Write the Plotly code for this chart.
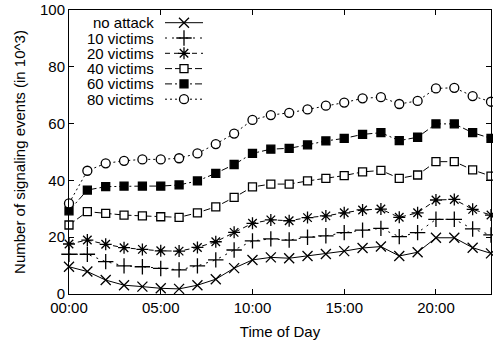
import plotly.graph_objects as go

# ---------------- data ----------------
hours = list(range(24))
x_tick_vals = [0, 5, 10, 15, 20]
x_tick_text = ["00:00", "05:00", "10:00", "15:00", "20:00"]
y_tick_vals = [0, 20, 40, 60, 80, 100]

series_names = ["no attack", "10 victims", "20 victims", "40 victims", "60 victims", "80 victims"]
no_attack = [9.6, 7.9, 4.9, 3.1, 2.6, 2.0, 1.8, 3.1, 5.2, 9.1, 12.0, 12.9,
             12.6, 13.4, 14.1, 15.1, 16.2, 16.7, 13.4, 14.7, 19.8, 19.8, 16.3, 14.3]
victims_10 = [14.0, 14.0, 11.4, 9.9, 9.6, 9.0, 8.5, 9.9, 12.0, 15.5, 18.7, 19.4,
              19.0, 20.0, 20.5, 21.6, 22.5, 23.1, 20.2, 21.6, 26.3, 26.3, 22.9, 20.8]
victims_20 = [17.6, 19.0, 17.5, 16.3, 15.7, 15.2, 15.1, 16.4, 18.4, 21.7, 24.9, 26.1,
              25.8, 26.9, 27.5, 28.6, 29.6, 29.9, 27.0, 28.6, 33.1, 33.3, 29.8, 27.8]
victims_40 = [24.3, 29.0, 28.4, 27.8, 27.5, 27.2, 27.0, 28.6, 30.7, 34.0, 37.7, 38.7,
              38.7, 39.8, 40.7, 41.7, 43.0, 43.5, 40.7, 41.9, 46.6, 46.6, 43.7, 41.5]
victims_60 = [29.3, 36.6, 37.8, 38.0, 38.0, 38.0, 38.4, 39.8, 42.5, 45.6, 49.5, 51.0,
              51.3, 52.5, 53.9, 54.8, 56.2, 56.8, 54.0, 55.2, 59.9, 59.9, 56.8, 54.8]
victims_80 = [31.9, 43.4, 46.0, 46.9, 47.4, 47.4, 47.8, 49.5, 52.8, 56.5, 61.3, 63.0,
              63.8, 65.0, 66.3, 67.4, 68.9, 69.3, 66.9, 68.0, 72.4, 72.6, 69.7, 67.7]
all_series = [no_attack, victims_10, victims_20, victims_40, victims_60, victims_80]

# ---------------- styles ----------------
FONT = "Liberation Sans, Arial, sans-serif"
FS = 15
W, H = 493, 348
ML, MR, MT, MB = 69, 2, 10, 54

styles = [
    dict(dash="solid", symbol="x-thin", color="black", size=10),
    dict(dash="2px,5px", symbol="cross-thin", color="black", size=11),
    dict(dash="5px,4px", symbol="asterisk", color="black", size=10),
    dict(dash="7px,3px", symbol="square", color="white", size=8),
    dict(dash="7px,3px,2px,3px", symbol="square", color="black", size=8),
    dict(dash="2px,3px", symbol="circle", color="white", size=9),
]

fig = go.Figure()
for name, vals, st in zip(series_names, all_series, styles):
    fig.add_trace(go.Scatter(
        x=hours, y=vals, name=name, mode="lines+markers", cliponaxis=False,
        line=dict(color="black", width=1, dash=st["dash"]),
        marker=dict(symbol=st["symbol"], size=st["size"], color=st["color"],
                    line=dict(color="black", width=1.3)),
        showlegend=False,
    ))

# ---------------- gnuplot-style key (text, then sample) ----------------
# overlay axes in pixel units of the plot area
px_left, px_right = ML, W - MR
px_top, px_bottom = MT, H - MB
key_text_right = 156
key_sample_x0, key_sample_x1 = 165, 203
key_row0, key_row_step = 22.7, 15.3
for i, (name, st) in enumerate(zip(series_names, styles)):
    ry = key_row0 + i * key_row_step
    fig.add_trace(go.Scatter(
        x=[key_sample_x0, key_sample_x1], y=[ry, ry], mode="lines",
        xaxis="x2", yaxis="y2", showlegend=False, hoverinfo="skip",
        line=dict(color="black", width=1, dash=st["dash"]),
    ))
    fig.add_trace(go.Scatter(
        x=[(key_sample_x0 + key_sample_x1) / 2], y=[ry], mode="markers",
        xaxis="x2", yaxis="y2", showlegend=False, hoverinfo="skip",
        marker=dict(symbol=st["symbol"], size=st["size"], color=st["color"],
                    line=dict(color="black", width=1.3)),
    ))
    fig.add_annotation(x=key_text_right, y=ry, xref="x2", yref="y2",
                       text=name, showarrow=False, xanchor="right", yanchor="middle",
                       font=dict(family=FONT, size=FS, color="black"))

axis_common = dict(
    showline=True, linecolor="black", linewidth=1, mirror="ticks",
    ticks="inside", ticklen=5, tickwidth=1, tickcolor="black",
    showgrid=False, zeroline=False, automargin=False,
    tickfont=dict(family=FONT, size=FS, color="black"),
)

fig.update_layout(
    width=W, height=H,
    margin=dict(l=ML, r=MR, t=MT, b=MB),
    paper_bgcolor="white", plot_bgcolor="white",
    font=dict(family=FONT, size=FS, color="black"),
    xaxis=dict(range=[0, 23], tickvals=x_tick_vals, ticktext=x_tick_text,
               title=dict(text="Time of Day", standoff=11,
                          font=dict(family=FONT, size=FS, color="black")),
               **axis_common),
    yaxis=dict(range=[0, 100], tickvals=y_tick_vals,
               title=dict(text="Number of signaling events (in 10^3)", standoff=10,
                          font=dict(family=FONT, size=FS, color="black")),
               **axis_common),
    xaxis2=dict(overlaying="x", range=[px_left, px_right], visible=False),
    yaxis2=dict(overlaying="y", range=[px_bottom, px_top], visible=False),
)

fig.write_html("out.html", config={"displayModeBar": False},
               post_script="document.body.style.margin='0';")
